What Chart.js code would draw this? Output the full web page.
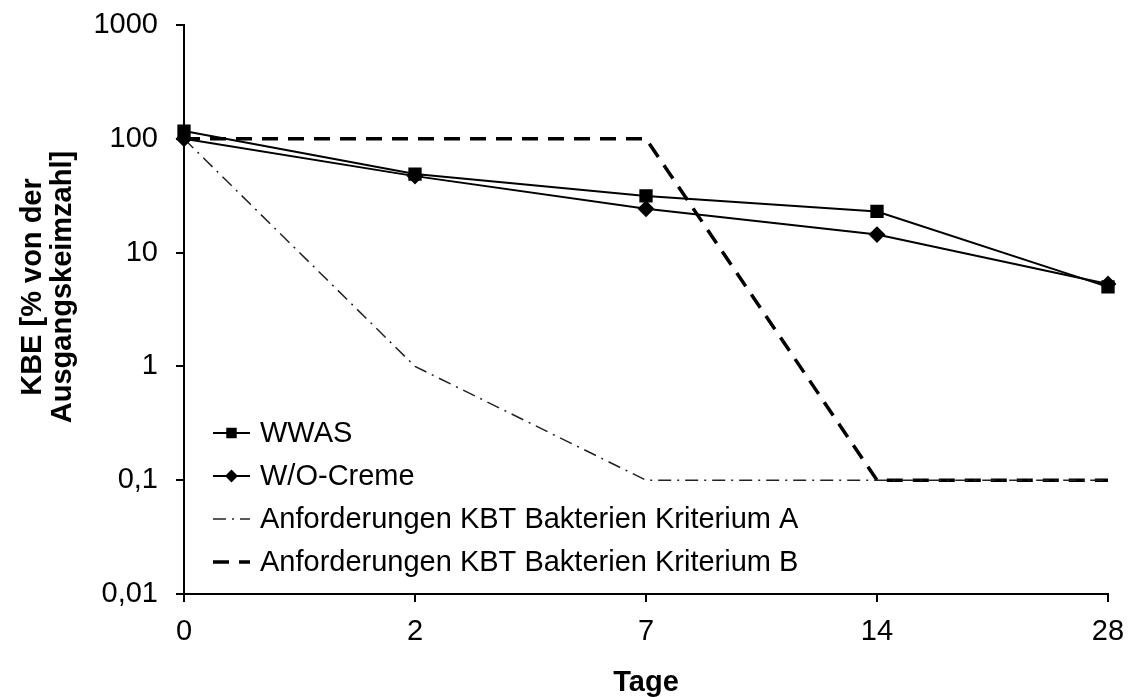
<!DOCTYPE html>
<html>
<head>
<meta charset="utf-8">
<script src="https://cdn.jsdelivr.net/npm/chart.js@4/dist/chart.umd.min.js"></script>
<style>
  html, body { margin: 0; padding: 0; background: #fff; }
  #wrap { width: 1133px; height: 697px; }
</style>
</head>
<body>
<div id="wrap"><canvas id="canvas"></canvas></div>
<script>
const days = ['0', '2', '7', '14', '28'];
const wwas = [117, 49, 31.5, 23, 5.0];
const woCreme = [100, 47, 24.3, 14.4, 5.3];
const kritA = [100, 1, 0.1, 0.1, 0.1];
const kritB = [100, 100, 100, 0.1, 0.1];
const yTicks = [0.01, 0.1, 1, 10, 100, 1000];
const yTitle = ['KBE [% von der', 'Ausgangskeimzahl]'];

const FONT = 'Liberation Sans, Arial, sans-serif';
const FS = 29;

// legend drawn inside the plot, lower left
const innerLegend = {
  id: 'innerLegend',
  afterDraw(chart) {
    const ctx = chart.ctx;
    const x0 = 213, x1 = 250, tx = 260;
    const ys = [433, 476, 519, 562];
    chart.data.datasets.forEach((ds, i) => {
      const y = ys[i];
      ctx.save();
      ctx.strokeStyle = ds.borderColor;
      ctx.lineWidth = ds.borderWidth;
      ctx.setLineDash(ds.borderDash || []);
      ctx.beginPath();
      ctx.moveTo(x0, y);
      ctx.lineTo(x1, y);
      ctx.stroke();
      ctx.setLineDash([]);
      if (ds.pointRadius > 0) {
        ctx.fillStyle = '#000';
        ctx.strokeStyle = '#000';
        Chart.helpers.drawPoint(ctx, {
          pointStyle: ds.pointStyle, radius: ds.pointRadius - 2, borderWidth: 1
        }, (x0 + x1) / 2, y);
      }
      ctx.fillStyle = '#000';
      ctx.font = FS + 'px ' + FONT;
      ctx.textAlign = 'left';
      ctx.textBaseline = 'middle';
      ctx.fillText(ds.label, tx, y + 1);
      ctx.restore();
    });
  }
};

// two-line y axis title, placed like the original
const yAxisTitle = {
  id: 'yAxisTitle',
  afterDraw(chart) {
    const ctx = chart.ctx;
    ctx.save();
    ctx.fillStyle = '#000';
    ctx.font = 'bold ' + FS + 'px ' + FONT;
    ctx.textAlign = 'center';
    ctx.textBaseline = 'middle';
    const xs = [33, 63];
    yTitle.forEach((t, i) => {
      ctx.save();
      ctx.translate(xs[i], 287);
      ctx.rotate(-Math.PI / 2);
      ctx.fillText(t, 0, 0);
      ctx.restore();
    });
    ctx.restore();
  }
};

window.onload = () => {
  const ctx = document.getElementById('canvas').getContext('2d');
  window.myChart = new Chart(ctx, {
    type: 'line',
    data: {
      labels: days,
      datasets: [
        {
          label: 'WWAS',
          data: wwas,
          borderColor: '#000', backgroundColor: '#000',
          borderWidth: 2, pointStyle: 'rect', pointRadius: 8,
          pointBorderColor: '#000', pointBackgroundColor: '#000', tension: 0
        },
        {
          label: 'W/O-Creme',
          data: woCreme,
          borderColor: '#000', backgroundColor: '#000',
          borderWidth: 2, pointStyle: 'rectRot', pointRadius: 7,
          pointBorderColor: '#000', pointBackgroundColor: '#000', tension: 0
        },
        {
          label: 'Anforderungen KBT Bakterien Kriterium A',
          data: kritA,
          borderColor: '#222', backgroundColor: '#222',
          borderWidth: 1.5, borderDash: [13, 6, 2, 6], pointRadius: 0, tension: 0
        },
        {
          label: 'Anforderungen KBT Bakterien Kriterium B',
          data: kritB,
          borderColor: '#000', backgroundColor: '#000',
          borderWidth: 3.5, borderDash: [16, 10], pointRadius: 0, tension: 0
        }
      ]
    },
    options: {
      responsive: true,
      maintainAspectRatio: false,
      animation: false,
      layout: { autoPadding: false, padding: { left: 10, right: 25, top: 25, bottom: 0 } },
      plugins: {
        legend: { display: false },
        tooltip: { enabled: false }
      },
      scales: {
        x: {
          type: 'category',
          offset: false,
          grid: { display: true, drawOnChartArea: false, drawTicks: true, tickLength: 8, color: '#000', lineWidth: 2 },
          border: { color: '#000', width: 2 },
          ticks: { color: '#000', font: { family: FONT, size: FS }, padding: 13, maxRotation: 0 },
          title: { display: true, text: 'Tage', color: '#000', font: { family: FONT, size: FS, weight: 'bold', lineHeight: 1 }, padding: { top: 10, bottom: 0 } },
          afterFit(scale) {
            scale.height = 103;
            scale.paddingLeft = 0;
            scale.paddingRight = 0;
          }
        },
        y: {
          type: 'logarithmic',
          min: 0.01,
          max: 1000,
          afterBuildTicks(scale) { scale.ticks = yTicks.map(v => ({ value: v })); },
          grid: { display: true, drawOnChartArea: false, drawTicks: true, tickLength: 8, color: '#000', lineWidth: 2 },
          border: { color: '#000', width: 2 },
          ticks: {
            color: '#000', font: { family: FONT, size: FS }, padding: 18,
            callback: v => String(v).replace('.', ',')
          },
          title: { display: false },
          afterFit(scale) {
            scale.width = 174;
            scale.paddingTop = 0;
            scale.paddingBottom = 0;
          }
        }
      }
    },
    plugins: [innerLegend, yAxisTitle]
  });
};
</script>
</body>
</html>
